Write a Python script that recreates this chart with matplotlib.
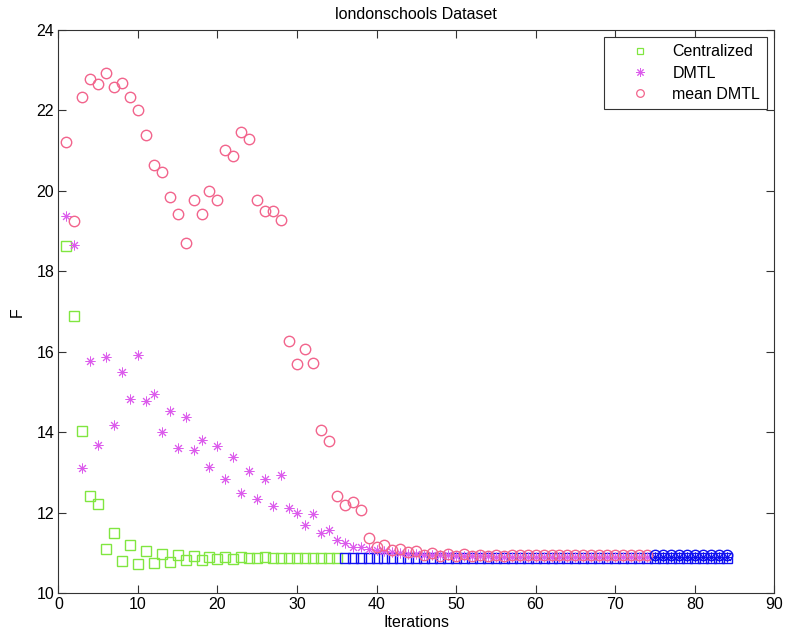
import matplotlib
matplotlib.use("Agg")
import matplotlib.pyplot as plt
from matplotlib.lines import Line2D

plt.rcParams['font.family'] = ['Liberation Sans', 'DejaVu Sans']

iterations = list(range(1, 85))

centralized = [
    18.63, 16.90, 14.04, 12.42, 12.21, 11.11, 11.50, 10.80, 11.21, 10.73,
    11.05, 10.76, 10.97, 10.77, 10.94, 10.82, 10.92, 10.83, 10.90, 10.86,
    10.90, 10.86, 10.90, 10.88, 10.88, 10.89, 10.88, 10.88, 10.88, 10.88,
    10.88, 10.88, 10.88, 10.88, 10.88, 10.88, 10.88, 10.88, 10.88, 10.88,
    10.88, 10.88, 10.88, 10.88, 10.88, 10.88, 10.88, 10.88, 10.88, 10.88,
    10.88, 10.88, 10.88, 10.88, 10.88, 10.88, 10.88, 10.88, 10.88, 10.88,
    10.88, 10.88, 10.88, 10.88, 10.88, 10.88, 10.88, 10.88, 10.88, 10.88,
    10.88, 10.88, 10.88, 10.88, 10.88, 10.88, 10.88, 10.88, 10.88, 10.88,
    10.88, 10.88, 10.88, 10.88,
]

dmtl = [
    19.38, 18.65, 13.11, 15.77, 13.69, 15.87, 14.19, 15.50, 14.83, 15.91,
    14.79, 14.95, 14.02, 14.54, 13.62, 14.37, 13.56, 13.82, 13.15, 13.65,
    12.84, 13.38, 12.49, 13.05, 12.35, 12.84, 12.18, 12.93, 12.12, 11.99,
    11.70, 11.98, 11.50, 11.58, 11.33, 11.26, 11.16, 11.15, 11.11, 11.07,
    11.04, 11.02, 11.00, 10.98, 10.97, 10.96, 10.95, 10.94, 10.94, 10.93,
    10.93, 10.92, 10.92, 10.92, 10.91, 10.91, 10.91, 10.91, 10.91, 10.91,
    10.91, 10.91, 10.91, 10.91, 10.91, 10.91, 10.91, 10.91, 10.91, 10.91,
    10.91, 10.91, 10.91, 10.91, 10.91, 10.91, 10.91, 10.91, 10.91, 10.91,
    10.91, 10.91, 10.91, 10.91,
]

mean_dmtl = [
    21.21, 19.25, 22.33, 22.78, 22.65, 22.93, 22.58, 22.68, 22.33, 22.01,
    21.39, 20.65, 20.47, 19.84, 19.42, 18.70, 19.77, 19.42, 20.00, 19.77,
    21.01, 20.86, 21.47, 21.30, 19.77, 19.50, 19.50, 19.27, 16.28, 15.71,
    16.06, 15.73, 14.07, 13.79, 12.42, 12.19, 12.27, 12.06, 11.37, 11.16,
    11.21, 11.07, 11.11, 11.02, 11.05, 10.95, 11.00, 10.93, 10.98, 10.93,
    10.97, 10.93, 10.96, 10.93, 10.96, 10.93, 10.96, 10.94, 10.96, 10.94,
    10.96, 10.94, 10.95, 10.94, 10.95, 10.94, 10.95, 10.94, 10.95, 10.94,
    10.95, 10.94, 10.95, 10.94, 10.94, 10.94, 10.94, 10.94, 10.94, 10.94,
    10.94, 10.94, 10.94, 10.94,
]

# after these iterations the markers are drawn in blue
central_split = 35
dist_split = 74

green = '#80e640'
magenta = '#dc5cec'
pink = '#f2648c'
blue = '#1010f0'

fig = plt.figure(figsize=(7.85, 6.42), dpi=100)
ax = fig.add_axes([0.0743, 0.0759, 0.912, 0.8774])

ax.plot(iterations[:central_split], centralized[:central_split], 's', ms=6.5,
        mfc='none', mec=green, mew=1.0)
ax.plot(iterations[central_split:], centralized[central_split:], 's', ms=6.5,
        mfc='none', mec=blue, mew=1.0)

ax.plot(iterations[:dist_split], dmtl[:dist_split], marker=(8, 2, 0), ls='none',
        ms=7, mec=magenta, mew=0.7)
ax.plot(iterations[dist_split:], dmtl[dist_split:], marker=(8, 2, 0), ls='none',
        ms=7, mec=blue, mew=0.7)

ax.plot(iterations[:dist_split], mean_dmtl[:dist_split], 'o', ms=7.5,
        mfc='none', mec=pink, mew=1.0)
ax.plot(iterations[dist_split:], mean_dmtl[dist_split:], 'o', ms=7.5,
        mfc='none', mec=blue, mew=1.0)

ax.set_xlim(0, 90)
ax.set_ylim(10, 24)
ax.set_xticks(range(0, 91, 10))
ax.set_yticks(range(10, 25, 2))
ax.tick_params(direction='in', length=5.8, width=0.8, top=True, right=True,
               labelsize=11.5, colors='#333333', labelcolor='black', pad=3)
for s in ax.spines.values():
    s.set_color('#333333')
    s.set_linewidth(0.8)

ax.set_xlabel('Iterations', fontsize=11.5, labelpad=2)
ax.set_ylabel('F', fontsize=11.5, labelpad=8)
ax.set_title('londonschools Dataset', fontsize=11.5, pad=8)

handles = [
    Line2D([], [], ls='none', marker='s', ms=5, mfc='none', mec=green, mew=0.9),
    Line2D([], [], ls='none', marker=(8, 2, 0), ms=6, mec=magenta, mew=0.7),
    Line2D([], [], ls='none', marker='o', ms=5.5, mfc='none', mec=pink, mew=0.9),
]
leg = ax.legend(handles, ['Centralized', 'DMTL', 'mean DMTL'], loc='upper right',
                bbox_to_anchor=(0.9905, 0.9875), fontsize=11.5, fancybox=False,
                framealpha=1, edgecolor='#333333', borderpad=0.45,
                handletextpad=0.2, handlelength=3.6, labelspacing=0.4,
                borderaxespad=0)
leg.get_frame().set_linewidth(0.8)

fig.savefig('out.png', dpi=100)
